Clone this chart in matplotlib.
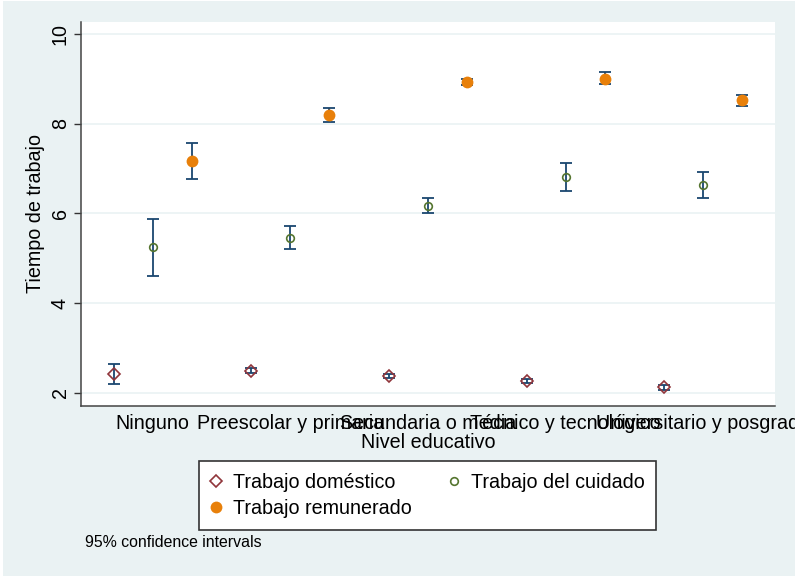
import numpy as np
import matplotlib.pyplot as plt
from matplotlib.lines import Line2D
from matplotlib.patches import Rectangle

plt.rcParams['font.family'] = ['Liberation Sans', 'DejaVu Sans']

# data
niveles = ["Ninguno", "Preescolar y primaria", "Secundaria o media",
           "Técnico y tecnológico", "Universitario y posgrado"]
domestico = [2.42, 2.49, 2.37, 2.26, 2.12]
domestico_lo = [2.20, 2.43, 2.32, 2.21, 2.07]
domestico_hi = [2.64, 2.55, 2.42, 2.31, 2.17]
cuidado = [5.25, 5.45, 6.17, 6.81, 6.64]
cuidado_lo = [4.60, 5.20, 6.02, 6.50, 6.35]
cuidado_hi = [5.88, 5.71, 6.34, 7.12, 6.92]
remunerado = [7.17, 8.20, 8.93, 9.01, 8.53]
remunerado_lo = [6.77, 8.04, 8.87, 8.88, 8.40]
remunerado_hi = [7.58, 8.35, 8.99, 9.15, 8.64]

bg = "#EAF2F3"
navy = "#1A476F"
fs = 14.2
series = [
    ("Trabajo doméstico", domestico, domestico_lo, domestico_hi, -0.283,
     dict(marker="D", ms=6, mfc="none", mec="#90353B", mew=1.2)),
    ("Trabajo del cuidado", cuidado, cuidado_lo, cuidado_hi, 0.0,
     dict(marker="o", ms=5.5, mfc="none", mec="#55752F", mew=1.2)),
    ("Trabajo remunerado", remunerado, remunerado_lo, remunerado_hi, 0.283,
     dict(marker="o", ms=8.5, mfc="#E8800A", mec="#E8800A", mew=0)),
]

fig = plt.figure(figsize=(7.95, 5.78), dpi=100, facecolor="white")
# graph region background (white hairline at the outer edge, like the export)
fig.patches.append(Rectangle((3 / 795, 2 / 578), 1, 1 - 3 / 578,
                             transform=fig.transFigure, facecolor=bg,
                             edgecolor="none", zorder=-10))
ax = fig.add_axes([0.1019, 0.298, 0.8729, 0.6645])
ax.set_facecolor("white")

x = np.arange(1, len(niveles) + 1)
handles = []
for name, vals, lo, hi, off, style in series:
    vals = np.array(vals)
    err = [vals - np.array(lo), np.array(hi) - vals]
    ax.errorbar(x + off, vals, yerr=err, fmt="none", ecolor=navy,
                elinewidth=1.3, capsize=4, capthick=1.3, zorder=2)
    ax.plot(x + off, vals, ls="none", zorder=3, **style)
    handles.append(Line2D([], [], ls="none", label=name, **style))

ax.set_xlim(0.48, 5.52)
ax.set_ylim(1.71, 10.28)
ax.set_yticks([2, 4, 6, 8, 10])
ax.set_xticks(x)
ax.set_xticklabels(niveles, fontsize=fs)
ax.tick_params(axis="x", length=0, pad=6)
ax.tick_params(axis="y", length=5, width=1, color="#333333", labelsize=fs,
               labelrotation=90, pad=3)
for lab in ax.get_yticklabels():
    lab.set_va("center")
ax.grid(axis="y", color=bg, linewidth=1.2)
ax.set_axisbelow(True)
for s in ["top", "right"]:
    ax.spines[s].set_visible(False)
for s in ["left", "bottom"]:
    ax.spines[s].set_color("#444444")
    ax.spines[s].set_linewidth(1.1)

ax.set_xlabel("Nivel educativo", fontsize=fs, labelpad=0)
ax.set_ylabel("Tiempo de trabajo", fontsize=fs, labelpad=4)

order = [0, 2, 1]
leg = fig.legend([handles[i] for i in order],
                 [handles[i].get_label() for i in order],
                 ncol=2, loc="center", bbox_to_anchor=(0.538, 0.1427),
                 fontsize=fs, frameon=True, fancybox=False, framealpha=1,
                 columnspacing=1.9, handletextpad=0.6, handlelength=0.5,
                 borderpad=0.6, labelspacing=0.35)
leg.get_frame().set_edgecolor("#333333")
leg.get_frame().set_linewidth(1.2)

fig.text(0.107, 0.053, "95% confidence intervals", fontsize=11.4)

fig.savefig("out.png", dpi=100, facecolor="white")
